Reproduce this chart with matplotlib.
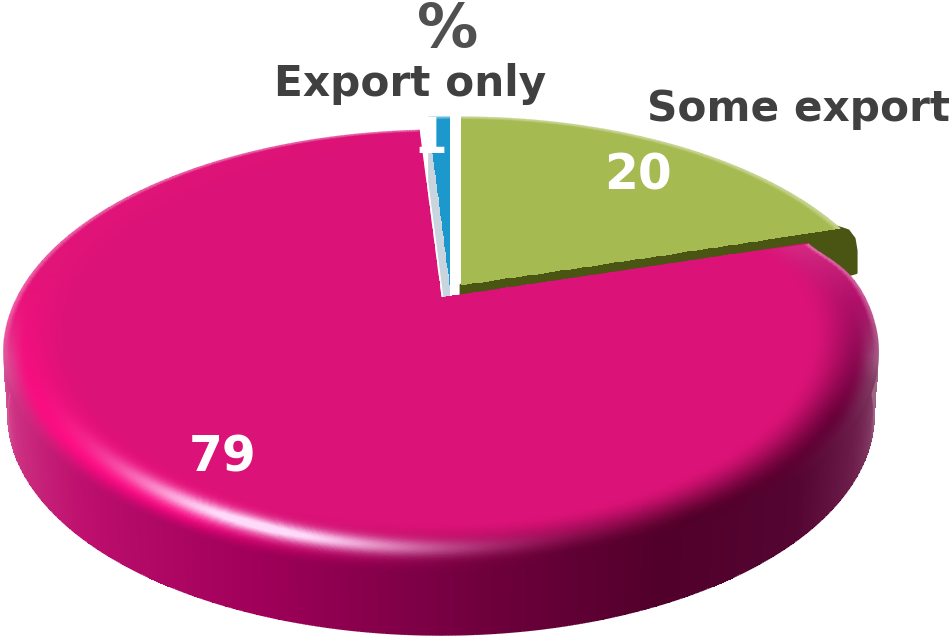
import numpy as np
import matplotlib
matplotlib.use('Agg')
import matplotlib.pyplot as plt
from matplotlib.collections import LineCollection
from matplotlib.patches import Polygon

# clockwise from twelve o'clock
categories = ['Some export', 'No export', 'Export only']
shares = [20, 79, 1]
share_labels = ['20', '79', '1']

# how far each slice is pulled out of the pie, in pixels
pull_x = [20, 0, 9]
pull_y = [-13, 0, -13]

# pie plane to screen, with some perspective
CX, CY = 441.0, 298.0
SX, SY, K = 424.0, 209.0, 0.245
DEPTH = 63.0

PINK = np.array([219, 18, 119]) / 255
GREEN = np.array([165, 186, 80]) / 255
BLUE = np.array([28, 152, 204]) / 255
OLIVE = '#4a5413'
GREY = '#c8d4de'

rim_deg = [97, 170, 190, 215, 240, 255, 270, 285, 300, 330, 360, 378]
rim_rgb = np.array([
    [219, 18, 119], [225, 20, 120], [240, 15, 125], [255, 10, 130],
    [250, 0, 125], [190, 0, 100], [130, 0, 70], [95, 0, 50],
    [80, 0, 40], [100, 0, 55], [175, 15, 105], [215, 40, 130]]) / 255

wall_deg = [194, 205, 225, 250, 275, 295, 315, 330, 340, 346]
wall_rgb = np.array([
    [215, 90, 155], [205, 50, 130], [190, 15, 110], [160, 0, 90],
    [110, 0, 60], [80, 0, 42], [85, 5, 50], [110, 30, 75],
    [130, 60, 100], [160, 100, 135]]) / 255


def project(r, deg, dx=0.0, dy=0.0, scale=1.0):
    # small warp flattens the right-hand side of the disc a little
    th = np.radians(deg - 1.3 * np.cos(np.radians(deg)))
    u, v = r * np.cos(th), r * np.sin(th)
    den = 1 + K * v
    return CX + dx + SX * scale * u / den, CY + dy - SY * scale * v / den


def table_colour(deg, stops, rgb):
    return np.stack([np.interp(deg, stops, rgb[:, i]) for i in range(3)], axis=-1)


def with_alpha(rgb):
    return np.concatenate([np.clip(rgb, 0, 1), np.ones(rgb.shape[:-1] + (1,))], axis=-1)


def smooth(t):
    t = np.clip(t, 0, 1)
    return t * t * (3 - 2 * t)


def pink_top(r, deg):
    t = smooth((r - 0.85) / 0.12)[..., None]
    col = PINK * (1 - t) + table_colour(deg, rim_deg, rim_rgb) * t
    # bevel rolls over into the wall along the front, easing in at both ends
    front = smooth((deg - 178) / 24) * smooth((362 - deg) / 24)
    roll = (smooth((r - 0.95) / 0.05) * front)[..., None]
    col = col * (1 - roll) + table_colour(deg, wall_deg, wall_rgb) * roll
    shine = np.exp(-((r - 0.925) / 0.024) ** 2) * np.exp(-((deg - 248) / 20) ** 2)
    shine = np.clip(1.1 * shine, 0, 1)[..., None]
    col = col * (1 - shine) + np.array([1.0, 0.85, 0.98]) * shine
    # the far edge melts into the background
    fade = (smooth((r - 0.985) / 0.015) * (1 - front) * 0.3)[..., None]
    return col * (1 - fade) + fade


def flat_top(base):
    def shade(r, deg):
        t = smooth((r - 0.98) / 0.02)[..., None] * 0.35
        return base * (1 - t) + t
    return shade


def round_pink(deg):
    # rounded corner where the large slice meets the green one
    return 1 - 0.035 * np.exp(-((deg - 378) / 7) ** 2)


def no_round(deg):
    return np.ones_like(deg)


def draw_top(ax, start, stop, shade, dx, dy, z, outer=no_round):
    radii = np.concatenate([np.linspace(0, 0.8, 30), np.linspace(0.8, 1, 120)[1:]])
    steps = max(8, int(abs(stop - start) * 4))
    degs = np.linspace(start, stop, steps + 1)
    rr, dd = np.meshgrid(radii, degs, indexing='ij')
    X, Y = project(rr * outer(dd), dd, dx, dy)
    rc = 0.5 * (radii[:-1] + radii[1:])
    dc = 0.5 * (degs[:-1] + degs[1:])
    rcc, dcc = np.meshgrid(rc, dc, indexing='ij')
    ax.pcolormesh(X, Y, with_alpha(shade(rcc, dcc)), shading='flat', antialiased=False, zorder=z)
    # smooth outline so the mesh does not leave a jagged border
    xa, ya = project(outer(degs), degs, dx, dy)
    pts = np.column_stack([xa, ya])
    segs = np.stack([pts[:-1], pts[1:]], axis=1)
    cols = with_alpha(shade(np.full_like(dc, 0.999), dc))
    ax.add_collection(LineCollection(segs, colors=cols, linewidths=1.0, zorder=z + 0.1))


def draw_pink_wall(ax, start, stop, z):
    degs = np.linspace(start, stop, int((stop - start) * 3) + 1)
    sides = np.linspace(0, 1, 4)
    dd, ss = np.meshgrid(degs, sides, indexing='ij')
    X, Y = project(1.0, dd, 0.0, DEPTH * ss, 1 - 0.01 * ss)
    dc = 0.5 * (degs[:-1] + degs[1:])
    cols = table_colour(dc, wall_deg, wall_rgb)
    C = np.repeat(with_alpha(cols)[:, None, :], 3, axis=1)
    ax.pcolormesh(X, Y, C, shading='flat', antialiased=False, zorder=z)
    xb, yb = project(1.0, degs, 0.0, DEPTH, 0.99)
    pts = np.column_stack([xb, yb])
    segs = np.stack([pts[:-1], pts[1:]], axis=1)
    ax.add_collection(LineCollection(segs, colors=with_alpha(cols), linewidths=1.0, zorder=z + 0.1))


fig = plt.figure(figsize=(9.53, 6.36), dpi=100)
ax = fig.add_axes([0, 0, 1, 1])
ax.set_xlim(0, 953)
ax.set_ylim(636, 0)
ax.axis('off')

# slice angles, going clockwise from the top
edges = 90 - np.cumsum([0] + shares) * 3.6
green_a, green_b = edges[1], edges[0]
pink_a, pink_b = edges[2] + 360, edges[1] + 360
blue_a, blue_b = edges[3] + 360, edges[2] + 360

# green slice and the olive wall that shows where it sticks out
dx, dy = pull_x[0], pull_y[0]
x0, y0 = project(0.0, 0.0, dx, dy)
x1, y1 = project(1.0, green_a, dx, dy)
wall = [(x0, y0), (x1 - 4, y1 - 2), (x1 + 8, y1 + 2), (x1 + 14, y1 + 10), (x1 + 16, y1 + 22),
        (x1 + 16, y1 + 44), (x1 - 40, y1 + 60), (x0, y0 + DEPTH)]
ax.add_patch(Polygon(wall, closed=True, fc=OLIVE, ec=OLIVE, lw=2.0, joinstyle='round', zorder=1))
draw_top(ax, green_a, green_b, flat_top(GREEN), dx, dy, 2)

# blue sliver, with its pale cut face
dx, dy = pull_x[2], pull_y[2]
x0, y0 = project(0.0, 0.0, dx, dy)
x1, y1 = project(1.0, blue_b, dx, dy)
ax.add_patch(Polygon([(x0, y0), (x1, y1), (x1, y1 + DEPTH), (x0, y0 + DEPTH)],
                     closed=True, fc=GREY, ec='none', zorder=3))
draw_top(ax, blue_a, blue_b, flat_top(BLUE), dx, dy, 4)

# large slice on top of the others
draw_pink_wall(ax, 180, 360, 5)
draw_top(ax, pink_a, pink_b, pink_top, 0, 0, 6, outer=round_pink)
for deg in (pink_a, pink_b):
    xe, ye = project(round_pink(np.array(deg)), deg)
    ax.plot([CX, xe], [CY, ye], color=PINK, lw=0.8, zorder=6.2)

title_col = '#404040'
ax.text(448, 30, '%', fontsize=44, fontweight='bold', color='#505050', ha='center', va='center', zorder=8)
ax.text(410, 84, categories[2], fontsize=30.4, fontweight='bold', color=title_col, ha='center', va='center', zorder=8)
ax.text(799, 109, categories[0], fontsize=30.4, fontweight='bold', color=title_col, ha='center', va='center', zorder=8)
ax.text(638, 176, share_labels[0], fontsize=35, fontweight='bold', color='white', ha='center', va='center', zorder=8)
ax.text(223, 457, share_labels[1], fontsize=35, fontweight='bold', color='white', ha='center', va='center', zorder=8)
ax.text(430, 139, share_labels[2], fontsize=35, fontweight='bold', color='white', ha='center', va='center', zorder=8)

fig.savefig('out.png', dpi=100)
